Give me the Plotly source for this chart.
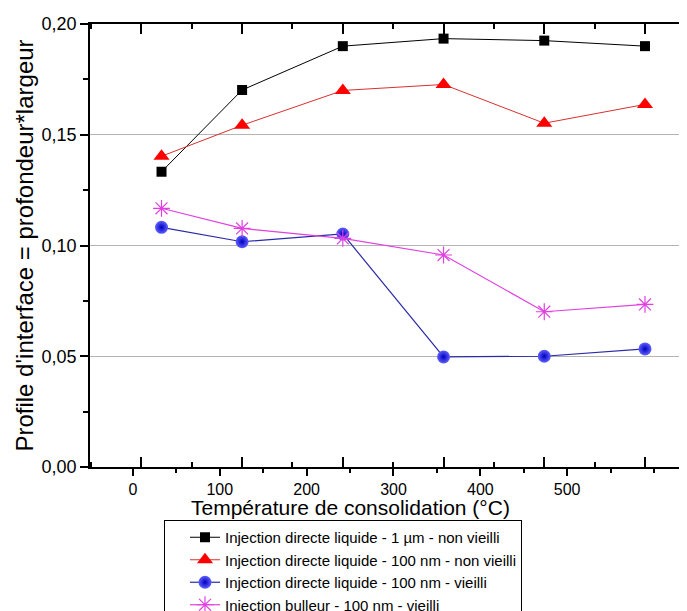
import plotly.graph_objects as go

temps = [20, 100, 200, 300, 400, 500]
s1_name = "Injection directe liquide - 1 µm - non vieilli"
s1 = [0.1333, 0.1702, 0.1900, 0.1934, 0.1925, 0.1900]
s2_name = "Injection directe liquide - 100 nm - non vieilli"
s2 = [0.1403, 0.1543, 0.1700, 0.1727, 0.1552, 0.1637]
s3_name = "Injection directe liquide - 100 nm - vieilli"
s3 = [0.1082, 0.1017, 0.1052, 0.0497, 0.0500, 0.0533]
s4_name = "Injection bulleur - 100 nm - vieilli"
s4 = [0.1168, 0.1077, 0.1032, 0.0957, 0.0701, 0.0734]

x_tick_vals = [0, 100, 200, 300, 400, 500]
y_tick_vals = [0.0, 0.05, 0.10, 0.15, 0.20]

FONT = "Liberation Sans, Arial, sans-serif"

# page body has an 8px default margin: figure is offset by 8px
W, H = 679, 603
L, T = 82, 16
PB = 459  # plot bottom in figure px
PW, PH = W - L, PB - T

fig = go.Figure()
fig.add_trace(go.Scatter(x=temps, y=s1, name=s1_name, mode="lines+markers",
                         line=dict(color="black", width=1),
                         marker=dict(symbol="square", size=10, color="black")))
fig.add_trace(go.Scatter(x=temps, y=s2, name=s2_name, mode="lines+markers",
                         line=dict(color="#d83030", width=1),
                         marker=dict(symbol="triangle-up", size=14, color="#ff0000")))
fig.add_trace(go.Scatter(x=temps, y=s3, name=s3_name, mode="lines+markers",
                         line=dict(color="#2a2aa8", width=1.2),
                         marker=dict(symbol="circle", size=13, color="#6060ff",
                                     gradient=dict(type="radial", color="#0000c0"))))
fig.add_trace(go.Scatter(x=temps, y=s4, name=s4_name, mode="lines+markers",
                         line=dict(color="#e040e0", width=1.2),
                         marker=dict(symbol="asterisk-open", size=14,
                                     line=dict(color="#e040e0", width=1.2))))
# helper trace for the label axis
fig.add_trace(go.Scatter(x=x_tick_vals, y=[None]*len(x_tick_vals), xaxis="x2",
                         showlegend=False, hoverinfo="skip", mode="markers"))

fig.update_layout(
    width=W, height=H,
    margin=dict(l=L, r=0, t=T, b=H - PB, autoexpand=False),
    paper_bgcolor="white", plot_bgcolor="white",
    separators=", ",
    font=dict(family=FONT, color="black"),
    showlegend=True,
    legend=dict(x=(156 - L) / PW, y=-(512 - PB) / PH, xanchor="left", yanchor="top",
                bgcolor="white", bordercolor="black", borderwidth=1,
                font=dict(size=15, family=FONT), tracegroupgap=0,
                indentation=20),
    xaxis=dict(range=[-51, 541.7], side="top", showticklabels=False,
               ticks="inside", ticklen=10, tickwidth=1.5, tickcolor="black",
               tickvals=x_tick_vals, showgrid=False, zeroline=False,
               showline=True, linecolor="black", linewidth=1.5, mirror="ticks",
               minor=dict(ticks="inside", ticklen=5, tickwidth=1.5,
                          tickcolor="black", dtick=50, tick0=0, showgrid=False)),
    xaxis2=dict(range=[-49.5, 638], overlaying="x", side="bottom", anchor="y",
                ticks="outside", ticklen=8, tickwidth=1.5, tickcolor="black",
                tickvals=x_tick_vals, ticktext=[str(v) for v in x_tick_vals],
                tickfont=dict(size=16, family=FONT), showgrid=False,
                zeroline=False, showline=False,
                minor=dict(ticks="outside", ticklen=5, tickwidth=1.5,
                           tickcolor="black", dtick=50, tick0=0, showgrid=False)),
    yaxis=dict(range=[0, 0.2], tickvals=y_tick_vals, tickformat=".2f",
               ticks="outside", ticklen=8, tickwidth=1.5, tickcolor="black",
               tickfont=dict(size=18, family=FONT),
               showgrid=True, gridcolor="#b4b4b4", gridwidth=1,
               zeroline=False, showline=True, linecolor="black", linewidth=1.5,
               minor=dict(ticks="outside", ticklen=5, tickwidth=1.5,
                          tickcolor="black", dtick=0.025, showgrid=False),
               title=dict(text="Profile d'interface = profondeur*largeur",
                          font=dict(size=24, family=FONT), standoff=1)),
    annotations=[dict(text="Température de consolidation (°C)", xref="paper",
                      yref="paper", x=(342 - L) / PW, y=-(499 - PB) / PH,
                      xanchor="center", yanchor="middle", showarrow=False,
                      font=dict(size=21, family=FONT))],
)

fig.write_html("out.html")
